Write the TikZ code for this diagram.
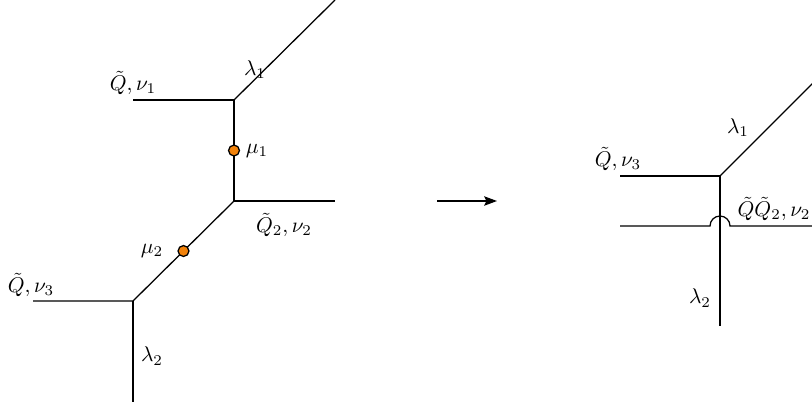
\documentclass[tikz,border=0pt]{standalone}
\usetikzlibrary{arrows.meta}
\definecolor{dotorange}{RGB}{242,130,10}
\tikzset{
mass/.style={circle, draw=black, fill=dotorange, inner sep=0pt, minimum size=1.8mm}
}
\begin{document}
\begin{tikzpicture}[
x = 1.65cm,
y = -1.65cm,
semithick,
>={Stealth[length=6pt, width=4.4pt, inset=1pt]}
]
\useasboundingbox (0,0) rectangle (8.12,4.08);
\clip (0,0) rectangle (8.12,4.08);
  \coordinate (topA) at (2.34,1.00);
  \coordinate (topB) at (2.34,2.01);
  \coordinate (topC) at (1.33,3.01);
  \coordinate (endA) at (3.35,0);
  \coordinate (legA) at (1.33,1.00);
  \coordinate (legB) at (3.35,2.01);
  \coordinate (legC) at (0.33,3.01);
  \coordinate (endC) at (1.33,4.02);
  \draw (topA) -- (endA);
  \draw (legA) -- (topA) -- (topB) -- (legB);
  \draw (topB) -- (topC) -- (legC);
  \draw (topC) -- (endC);
  \node[mass] (muone) at (2.34,1.505) {};
  \node[mass] (mutwo) at (1.835,2.51) {};
  \node at (2.55,0.70) {$\lambda_1$};
  \node at (1.33,0.83) {$\tilde{Q},\nu_1$};
  \node at (2.57,1.51) {$\mu_1$};
  \node at (2.84,2.25) {$\tilde{Q}_2,\nu_2$};
  \node at (1.52,2.51) {$\mu_2$};
  \node at (0.31,2.85) {$\tilde{Q},\nu_3$};
  \node at (1.52,3.56) {$\lambda_2$};
  \coordinate (arrowfrom) at (4.37,2.01);
  \coordinate (arrowto) at (4.97,2.01);
  \draw[->] (arrowfrom) -- (arrowto);
  \coordinate (topD) at (7.20,1.76);
  \coordinate (endD) at (8.30,0.66);
  \coordinate (legD) at (6.20,1.76);
  \coordinate (endE) at (7.20,3.26);
  \coordinate (hopin) at (6.20,2.26);
  \coordinate (hopout) at (8.30,2.26);
  \draw (topD) -- (endD);
  \draw (legD) -- (topD) -- (endE);
  \draw (hopin) -- (7.10,2.26) arc (180:360:0.1) -- (hopout);
  \node at (7.38,1.28) {$\lambda_1$};
  \node at (6.18,1.59) {$\tilde{Q},\nu_3$};
  \node[anchor=west, inner sep=0pt] at (7.37,2.09) {$\tilde{Q}\tilde{Q}_2,\nu_2$};
  \node at (7.00,2.98) {$\lambda_2$};
\end{tikzpicture}
\end{document}
